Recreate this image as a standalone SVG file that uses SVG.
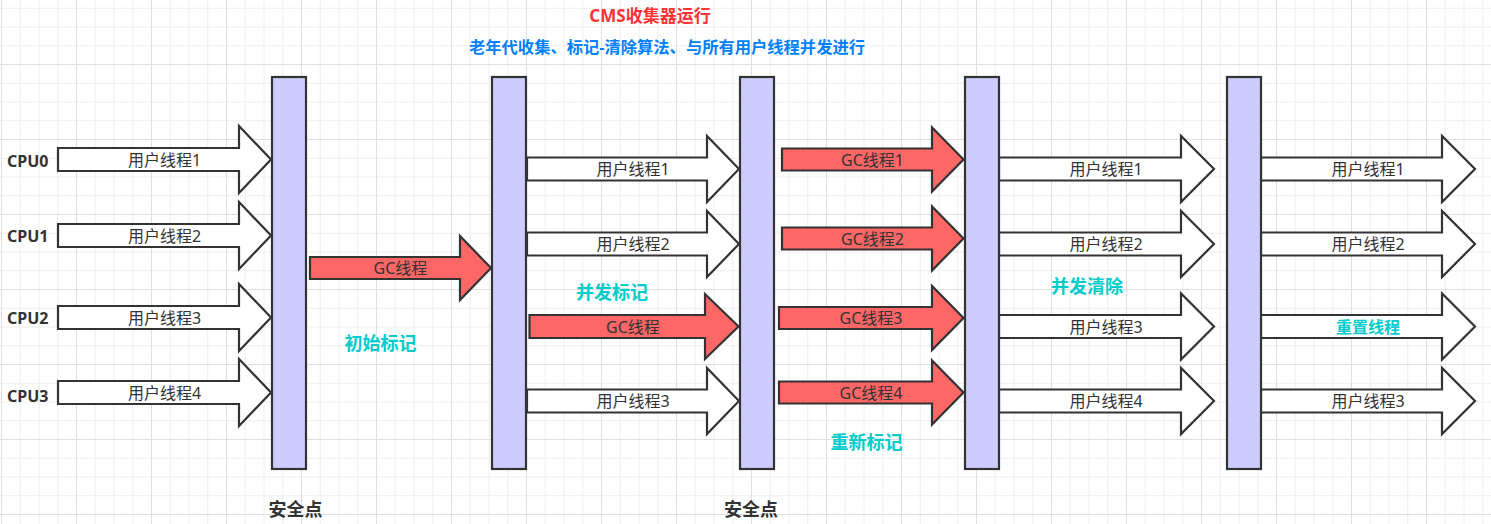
<svg xmlns="http://www.w3.org/2000/svg" width="1491" height="524" viewBox="0 0 1491 524">
<style>
.bar{fill:#CCCCFF;stroke:#333;stroke-width:2.2}
.ua{fill:#fff;stroke:#333;stroke-width:2.2;stroke-linejoin:miter}
.ga{fill:#FF6666;stroke:#333;stroke-width:2.2;stroke-linejoin:miter}
text{font-family:"Noto Sans","Noto Sans CJK SC",sans-serif}
.al{font-size:16px;fill:#333;text-anchor:middle;dominant-baseline:central}
.cpu{font-size:16px;font-weight:bold;fill:#333}
.phase{font-size:18px;font-weight:bold;fill:#00CCCC;text-anchor:middle;dominant-baseline:central}
.safe{font-size:18px;font-weight:bold;fill:#333;text-anchor:middle;dominant-baseline:central}
</style>
<defs>
<pattern id="grid" x="1" y="-11" width="75" height="75" patternUnits="userSpaceOnUse">
<path d="M0 19.25H75M0 38H75M0 56.75H75M19.25 0V75M38 0V75M56.75 0V75" stroke="#eeeeee" stroke-width="1" fill="none"/>
<path d="M0 0.5H75M0.5 0V75" stroke="#dfdfdf" stroke-width="1" fill="none"/>
</pattern>
</defs>
<rect width="1491" height="524" fill="#fff"/>
<rect width="1491" height="524" fill="url(#grid)"/>

<g id="connectors">
<path class="ua" d="M58 148H239V126L271 159.5L239 193V171H58Z"/>
<path class="ua" d="M58 224H239V202L271 235.5L239 269V247H58Z"/>
<path class="ua" d="M58 306H239V284L271 317.5L239 351V329H58Z"/>
<path class="ua" d="M58 381H239V359L271 392.5L239 426V404H58Z"/>
<path class="ga" d="M310 257H460V236L491 268L460 300V279H310Z"/>
<path class="ua" d="M527 157.5H707V136L739 169L707 202V180.5H527Z"/>
<path class="ua" d="M527 232.5H707V211L739 244L707 277V255.5H527Z"/>
<path class="ga" d="M529.5 315H705V294L738.5 326.5L705 359V338H529.5Z"/>
<path class="ua" d="M527 389.5H707V368L739 401L707 434V412.5H527Z"/>
<path class="ga" d="M782 148.5H932V127.5L963.5 159.5L932 191.5V170.5H782Z"/>
<path class="ga" d="M782 227.5H932V206.5L963.5 238.5L932 270.5V249.5H782Z"/>
<path class="ga" d="M779 307H932V286L963.5 318L932 350V329H779Z"/>
<path class="ga" d="M779 381.5H932V360.5L963.5 392.5L932 424.5V403.5H779Z"/>
<path class="ua" d="M999 157.5H1181V136L1214 169L1181 202V180.5H999Z"/>
<path class="ua" d="M999 232.5H1181V211L1214 244L1181 277V255.5H999Z"/>
<path class="ua" d="M999 315H1181V293.5L1214 326.5L1181 359.5V338H999Z"/>
<path class="ua" d="M999 389.5H1181V368L1214 401L1181 434V412.5H999Z"/>
<path class="ua" d="M1261 157.5H1442V136L1475 169L1442 202V180.5H1261Z"/>
<path class="ua" d="M1261 232.5H1442V211L1475 244L1442 277V255.5H1261Z"/>
<path class="ua" d="M1261 315H1442V293.5L1475 326.5L1442 359.5V338H1261Z"/>
<path class="ua" d="M1261 389.5H1442V368L1475 401L1442 434V412.5H1261Z"/>
<text class="al" x="164.5" y="159.5">用户线程1</text>
<text class="al" x="164.5" y="235.5">用户线程2</text>
<text class="al" x="164.5" y="317.5">用户线程3</text>
<text class="al" x="164.5" y="392.5">用户线程4</text>
<text class="al" x="400.5" y="268">GC线程</text>
<text class="al" x="633" y="169">用户线程1</text>
<text class="al" x="633" y="244">用户线程2</text>
<text class="al" x="633" y="326.5">GC线程</text>
<text class="al" x="633" y="401">用户线程3</text>
<text class="al" x="872.5" y="159.5">GC线程1</text>
<text class="al" x="872.5" y="238.5">GC线程2</text>
<text class="al" x="871" y="318">GC线程3</text>
<text class="al" x="871" y="392.5">GC线程4</text>
<text class="al" x="1106" y="169">用户线程1</text>
<text class="al" x="1106" y="244">用户线程2</text>
<text class="al" x="1106" y="326.5">用户线程3</text>
<text class="al" x="1106" y="401">用户线程4</text>
<text class="al" x="1368" y="169">用户线程1</text>
<text class="al" x="1368" y="244">用户线程2</text>
<text class="al" x="1368" y="326.5" style="font-weight:bold;fill:#00CCCC">重置线程</text>
<text class="al" x="1368" y="401">用户线程3</text>
</g>

<g id="bar1"><rect class="bar" x="272" y="77" width="34" height="392"/></g>
<g id="bar2"><rect class="bar" x="492" y="77" width="34" height="392"/></g>
<g id="bar3"><rect class="bar" x="740" y="77" width="34" height="392"/></g>
<g id="bar4"><rect class="bar" x="965" y="77" width="34" height="392"/></g>
<g id="bar5"><rect class="bar" x="1227" y="77" width="34" height="392"/></g>

<g id="title"><text x="650" y="15.5" style="font-size:17px;font-weight:bold;fill:#FF3333;text-anchor:middle;dominant-baseline:central">CMS收集器运行</text></g>
<g id="subtitle"><text x="667" y="47" style="font-size:16.3px;font-weight:bold;fill:#007FFF;text-anchor:middle;dominant-baseline:central">老年代收集、标记-清除算法、与所有用户线程并发进行</text></g>

<g id="cpu0"><text class="cpu" x="7" y="167">CPU0</text></g>
<g id="cpu1"><text class="cpu" x="7" y="242">CPU1</text></g>
<g id="cpu2"><text class="cpu" x="7" y="324">CPU2</text></g>
<g id="cpu3"><text class="cpu" x="7" y="402">CPU3</text></g>

<g id="phase-initial"><text class="phase" x="380.5" y="343">初始标记</text></g>
<g id="phase-concurrent-mark"><text class="phase" x="612" y="292">并发标记</text></g>
<g id="phase-remark"><text class="phase" x="866.5" y="442">重新标记</text></g>
<g id="phase-sweep"><text class="phase" x="1087" y="286">并发清除</text></g>

<g id="safepoint1"><text class="safe" x="295.5" y="509">安全点</text></g>
<g id="safepoint2"><text class="safe" x="751" y="509">安全点</text></g>
</svg>
